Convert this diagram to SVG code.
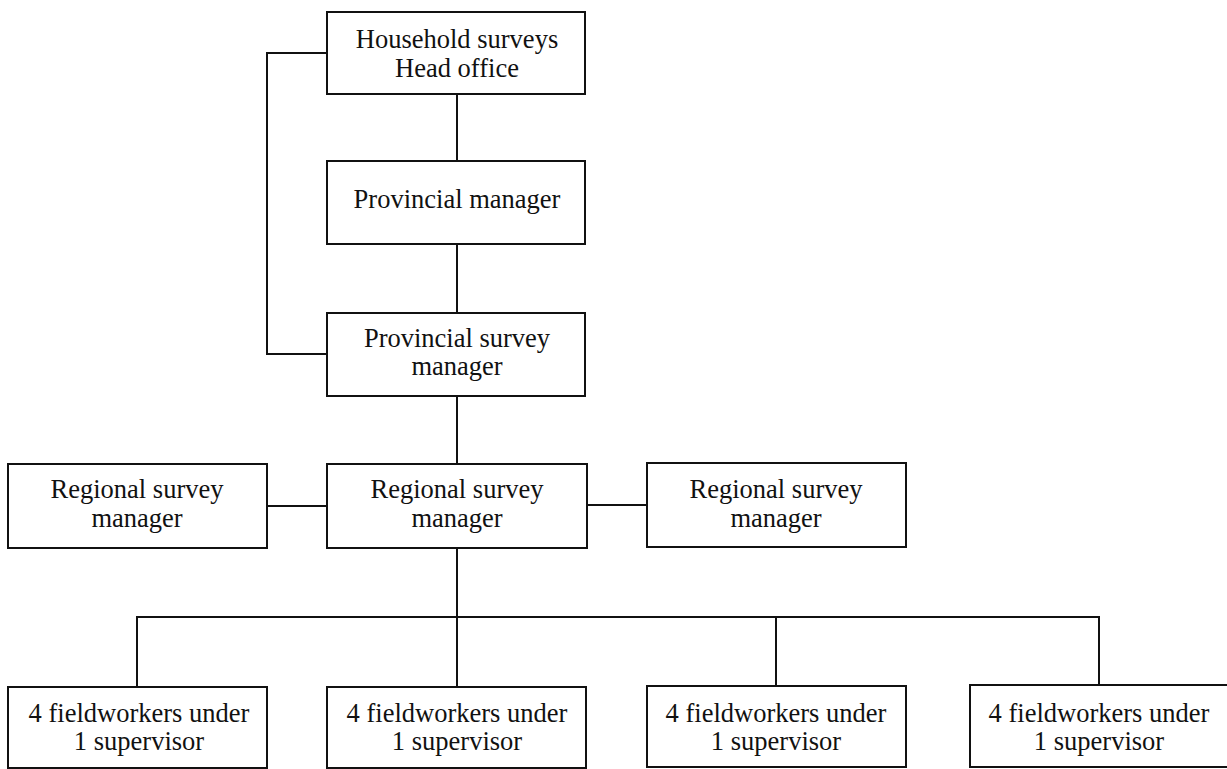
<svg xmlns="http://www.w3.org/2000/svg" width="1227" height="769" viewBox="0 0 1227 769">
<style>
.box{fill:#fff;stroke:#111;stroke-width:2}
.ln{fill:none;stroke:#111;stroke-width:2}
text{font-family:"Liberation Serif","Times New Roman",serif;font-size:26.5px;fill:#111;text-anchor:middle}
</style>
<rect width="1227" height="769" fill="#fff"/>
<g id="connectors">
<path class="ln" d="M327,53 H267 V354 H327"/>
<path class="ln" d="M457,94 V161"/>
<path class="ln" d="M457,244 V313"/>
<path class="ln" d="M457,396 V464"/>
<path class="ln" d="M267,506 H327"/>
<path class="ln" d="M587,505 H647"/>
<path class="ln" d="M457,548 V687"/>
<path class="ln" d="M137,687 V617 H1099 V686"/>
<path class="ln" d="M776,617 V686"/>
</g>
<g id="head-office">
<rect class="box" x="327" y="12" width="258" height="82"/>
<text x="457" y="48">Household surveys</text>
<text x="457" y="77">Head office</text>
</g>
<g id="provincial-manager">
<rect class="box" x="327" y="161" width="258" height="83"/>
<text x="457" y="208">Provincial manager</text>
</g>
<g id="provincial-survey-manager">
<rect class="box" x="327" y="313" width="258" height="83"/>
<text x="457" y="347">Provincial survey</text>
<text x="457" y="375">manager</text>
</g>
<g id="regional-left">
<rect class="box" x="8" y="464" width="259" height="84"/>
<text x="137" y="498">Regional survey</text>
<text x="137" y="527">manager</text>
</g>
<g id="regional-center">
<rect class="box" x="327" y="464" width="260" height="84"/>
<text x="457" y="498">Regional survey</text>
<text x="457" y="527">manager</text>
</g>
<g id="regional-right">
<rect class="box" x="647" y="463" width="259" height="84"/>
<text x="776" y="498">Regional survey</text>
<text x="776" y="527">manager</text>
</g>
<g id="fieldworkers-1">
<rect class="box" x="8" y="687" width="259" height="81"/>
<text x="139" y="722">4 fieldworkers under</text>
<text x="139" y="750">1 supervisor</text>
</g>
<g id="fieldworkers-2">
<rect class="box" x="327" y="687" width="259" height="81"/>
<text x="457" y="722">4 fieldworkers under</text>
<text x="457" y="750">1 supervisor</text>
</g>
<g id="fieldworkers-3">
<rect class="box" x="647" y="686" width="259" height="81"/>
<text x="776" y="722">4 fieldworkers under</text>
<text x="776" y="750">1 supervisor</text>
</g>
<g id="fieldworkers-4">
<rect class="box" x="970" y="685" width="259" height="82"/>
<text x="1099" y="722">4 fieldworkers under</text>
<text x="1099" y="750">1 supervisor</text>
</g>
</svg>
